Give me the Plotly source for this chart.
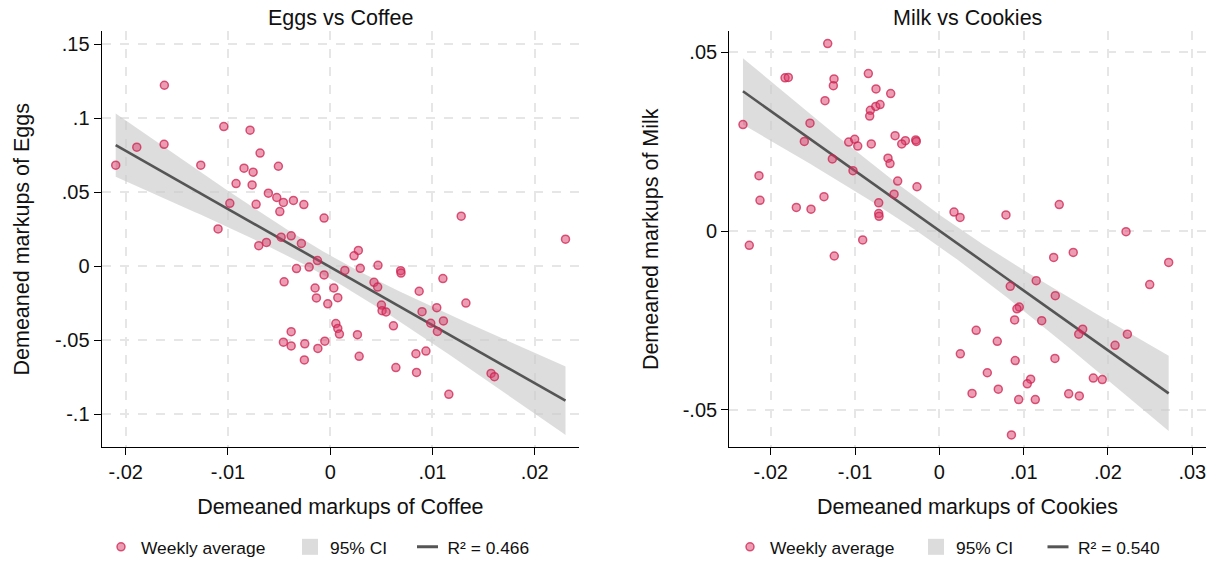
import numpy as np
import plotly.graph_objects as go

# ---------------- data ----------------
coffee_x = [-0.02098, -0.01892, -0.01622, -0.01625, -0.01266, -0.01041, -0.00784, -0.00686,
            -0.00843, -0.00754, -0.00507, -0.00921, -0.00764, -0.00605, -0.00523, -0.00458,
            -0.00360, -0.00258, -0.00060, -0.00982, -0.00725, -0.01097, -0.00493, -0.00480,
            -0.00382, -0.00282, -0.00624, -0.00699, -0.00125, 0.00143, -0.00330, -0.00206,
            -0.00060, -0.00451, -0.00148, 0.00035, -0.00135, 0.00074, -0.00024, 0.00055,
            0.00074, 0.00090, -0.00382, -0.00458, -0.00382, -0.00249, -0.00053, -0.00121,
            -0.00253, 0.01281, 0.02301, 0.00275, 0.00233, 0.00294, 0.00467, 0.00689,
            0.00692, 0.01102, 0.00428, 0.00464, 0.00870, 0.01327, 0.00501, 0.00507,
            0.00546, 0.00898, 0.01042, 0.01107, 0.00983, 0.01048, 0.00618, 0.00266,
            0.00283, 0.00838, 0.00936, 0.00642, 0.00844, 0.01160, 0.01573, 0.01606]
eggs_y = [0.0683, 0.0805, 0.1223, 0.0824, 0.0683, 0.0944, 0.0920, 0.0765,
          0.0663, 0.0636, 0.0676, 0.0559, 0.0550, 0.0494, 0.0465, 0.0432,
          0.0445, 0.0417, 0.0326, 0.0426, 0.0419, 0.0253, 0.0370, 0.0197,
          0.0206, 0.0155, 0.0162, 0.0140, 0.0039, -0.0027, -0.0015, -0.0005,
          -0.0058, -0.0104, -0.0146, -0.0146, -0.0213, -0.0211, -0.0253, -0.0386,
          -0.0419, -0.0457, -0.0441, -0.0512, -0.0537, -0.0523, -0.0505, -0.0554,
          -0.0632, 0.0339, 0.0184, 0.0108, 0.0071, -0.0013, 0.0007, -0.0029,
          -0.0045, -0.0082, -0.0108, -0.0140, -0.0168, -0.0248, -0.0261, -0.0299,
          -0.0308, -0.0306, -0.0279, -0.0368, -0.0384, -0.0439, -0.0401, -0.0461,
          -0.0607, -0.0590, -0.0572, -0.0683, -0.0716, -0.0864, -0.0723, -0.0745]

cookies_x = [-0.01324, -0.01830, -0.01791, -0.01249, -0.01257, -0.00842, -0.00751, -0.00577,
             -0.01356, -0.00818, -0.00754, -0.00703, -0.00826, -0.02329, -0.01534, -0.01601,
             -0.01075, -0.01004, -0.00968, -0.00807, -0.00525, -0.00403, -0.00446, -0.00280,
             -0.00273, -0.01269, -0.01024, -0.00609, -0.00585, -0.00494, -0.00265, -0.00537,
             -0.02139, -0.02127, -0.01696, -0.01522, -0.01368, -0.00719, -0.00719, -0.00715,
             0.00174, 0.00246, -0.02254, -0.00909, -0.01246, 0.00249, 0.00388, 0.00790,
             0.01422, 0.02214, 0.02720, 0.02495, 0.01356, 0.01588, 0.01149, 0.00841,
             0.01375, 0.00948, 0.00920, 0.00893, 0.01214, 0.01700, 0.01653, 0.02230,
             0.02084, 0.00437, 0.00687, 0.00900, 0.01371, 0.00569, 0.00699, 0.01083,
             0.01043, 0.00941, 0.01138, 0.01826, 0.01932, 0.01534, 0.01660, 0.00855]
milk_y = [0.0525, 0.0429, 0.0430, 0.0426, 0.0407, 0.0441, 0.0398, 0.0385,
          0.0365, 0.0338, 0.0349, 0.0354, 0.0322, 0.0298, 0.0302, 0.0251,
          0.0249, 0.0257, 0.0238, 0.0244, 0.0267, 0.0253, 0.0244, 0.0255,
          0.0251, 0.0202, 0.0169, 0.0204, 0.0189, 0.0140, 0.0124, 0.0103,
          0.0155, 0.0086, 0.0066, 0.0061, 0.0096, 0.0079, 0.0049, 0.0041,
          0.0053, 0.0038, -0.0040, -0.0025, -0.0070, -0.0344, -0.0455, 0.0045,
          0.0074, -0.0002, -0.0088, -0.0150, -0.0074, -0.0060, -0.0139, -0.0155,
          -0.0181, -0.0213, -0.0218, -0.0249, -0.0251, -0.0275, -0.0289, -0.0289,
          -0.0320, -0.0278, -0.0309, -0.0363, -0.0357, -0.0397, -0.0443, -0.0415,
          -0.0428, -0.0472, -0.0472, -0.0412, -0.0416, -0.0456, -0.0462, -0.0571]

panel_titles = ["Eggs vs Coffee", "Milk vs Cookies"]
x_titles = ["Demeaned markups of Coffee", "Demeaned markups of Cookies"]
y_titles = ["Demeaned markups of Eggs", "Demeaned markups of Milk"]
r2_labels = ["R² = 0.466", "R² = 0.540"]

left_xticks = [-0.02, -0.01, 0, 0.01, 0.02]
left_xtext = ["-.02", "-.01", "0", ".01", ".02"]
left_yticks = [-0.1, -0.05, 0, 0.05, 0.1, 0.15]
left_ytext = ["-.1", "-.05", "0", ".05", ".1", ".15"]
right_xticks = [-0.02, -0.01, 0, 0.01, 0.02, 0.03]
right_xtext = ["-.02", "-.01", "0", ".01", ".02", ".03"]
right_yticks = [-0.05, 0, 0.05]
right_ytext = ["-.05", "0", ".05"]

# ---------------- style ----------------
FONT = "Liberation Sans, Arial, Helvetica, sans-serif"
W, H = 1219, 565
T_CRIT = 1.993
PT_FILL = "rgba(218,60,105,0.50)"
PT_LINE = "rgba(205,35,80,0.75)"
CI_FILL = "rgba(200,200,200,0.62)"
FIT_COL = "#555555"


def ols_ci(x, y):
    x = np.asarray(x, float)
    y = np.asarray(y, float)
    b1, b0 = np.polyfit(x, y, 1)
    n = len(x)
    resid = y - (b0 + b1 * x)
    s = np.sqrt(np.sum(resid ** 2) / (n - 2))
    xs = np.linspace(x.min(), x.max(), 120)
    yhat = b0 + b1 * xs
    se = s * np.sqrt(1.0 / n + (xs - x.mean()) ** 2 / np.sum((x - x.mean()) ** 2))
    return xs, yhat, yhat - T_CRIT * se, yhat + T_CRIT * se


fig = go.Figure()

panels = [
    (coffee_x, eggs_y, "x", "y", ["legend", "legend2", "legend3"], r2_labels[0]),
    (cookies_x, milk_y, "x2", "y2", ["legend4", "legend5", "legend6"], r2_labels[1]),
]

for xd, yd, xa, ya, legs, r2 in panels:
    xs, yhat, lo, hi = ols_ci(xd, yd)
    fig.add_trace(go.Scatter(
        x=np.concatenate([xs, xs[::-1]]), y=np.concatenate([hi, lo[::-1]]),
        fill="toself", fillcolor=CI_FILL, line=dict(width=0), mode="lines",
        hoverinfo="skip", showlegend=False, xaxis=xa, yaxis=ya))
    fig.add_trace(go.Scatter(
        x=xs, y=yhat, mode="lines", line=dict(color=FIT_COL, width=2.6),
        showlegend=False, xaxis=xa, yaxis=ya))
    fig.add_trace(go.Scatter(
        x=xd, y=yd, mode="markers", name="Weekly average",
        marker=dict(size=8, color=PT_FILL, line=dict(color=PT_LINE, width=1.5)),
        legend=legs[0], xaxis=xa, yaxis=ya))
    # legend keys
    fig.add_trace(go.Scatter(
        x=[None], y=[None], mode="markers", name="95% CI",
        marker=dict(symbol="square", size=16, color="#dcdcdc"),
        legend=legs[1], xaxis=xa, yaxis=ya))
    fig.add_trace(go.Scatter(
        x=[None], y=[None], mode="markers", name=r2,
        marker=dict(symbol="line-ew", size=15, line=dict(color=FIT_COL, width=3)),
        legend=legs[2], xaxis=xa, yaxis=ya))

axis_common = dict(
    showline=True, linecolor="black", linewidth=1.3, mirror=False,
    ticks="outside", ticklen=7, tickwidth=1.3, tickcolor="black",
    showgrid=True, gridcolor="#e6e6e6", gridwidth=1.5, griddash="dash",
    zeroline=False, tickfont=dict(family=FONT, size=20, color="#111"),
    automargin=False,
)

yd0 = 1 - 454.3 / H
yd1 = 1 - 32 / H

fig.update_layout(
    width=W, height=H,
    margin=dict(l=0, r=0, t=0, b=0),
    paper_bgcolor="white", plot_bgcolor="white",
    font=dict(family=FONT, color="#111"),
    xaxis=dict(domain=[101.7 / W, 579 / W], range=[-0.02235, 0.02433],
               tickvals=left_xticks, ticktext=left_xtext,
               title=dict(text=x_titles[0], font=dict(size=21.5, family=FONT), standoff=16),
               anchor="y", **axis_common),
    yaxis=dict(domain=[yd0, yd1], range=[-0.1220, 0.1586],
               tickvals=left_yticks, ticktext=left_ytext,
               title=dict(text=y_titles[0], font=dict(size=21.5, family=FONT), standoff=19),
               anchor="x", **axis_common),
    xaxis2=dict(domain=[729.3 / W, 1205.7 / W], range=[-0.02491, 0.03159],
                tickvals=right_xticks, ticktext=right_xtext,
                title=dict(text=x_titles[1], font=dict(size=21.5, family=FONT), standoff=16),
                anchor="y2", **axis_common),
    yaxis2=dict(domain=[yd0, yd1], range=[-0.06051, 0.05588],
                tickvals=right_yticks, ticktext=right_ytext,
                title=dict(text=y_titles[1], font=dict(size=21.5, family=FONT), standoff=18),
                anchor="x2", **axis_common),
)

leg_x = [101, 290, 407.5, 730, 916, 1038]
leg_names = ["legend", "legend2", "legend3", "legend4", "legend5", "legend6"]
for name, px in zip(leg_names, leg_x):
    fig.update_layout({name: dict(
        x=px / W, y=1 - 556 / H, xanchor="left", yanchor="middle",
        orientation="h", bgcolor="rgba(0,0,0,0)", borderwidth=0,
        font=dict(family=FONT, size=17.4, color="#111"))})

for i, t in enumerate(panel_titles):
    cx = [(101.7 + 579) / 2, (729.3 + 1205.7) / 2][i]
    fig.add_annotation(text=t, x=cx / W, y=1 - 18 / H, xref="paper", yref="paper",
                       xanchor="center", yanchor="middle", showarrow=False,
                       font=dict(family=FONT, size=21.5, color="#111"))

fig.write_html("out.html", config={"displayModeBar": False},
               post_script="document.body.style.margin='0px';document.body.style.overflow='hidden';")
